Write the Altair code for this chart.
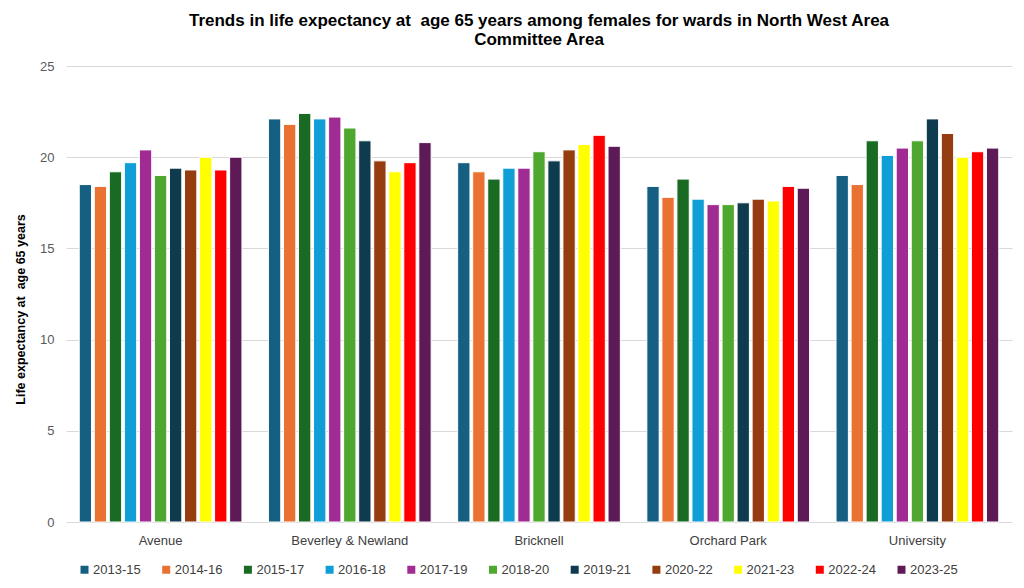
import altair as alt
import pandas as pd

wards = ["Avenue", "Beverley & Newland", "Bricknell", "Orchard Park", "University"]
periods = ["2013-15", "2014-16", "2015-17", "2016-18", "2017-19", "2018-20",
           "2019-21", "2020-22", "2021-23", "2022-24", "2023-25"]
colors = ["#156082", "#E97132", "#196B24", "#0F9ED5", "#A02B93", "#4EA72E",
          "#0F3B4F", "#953D10", "#FFFF00", "#FF0000", "#5E1A57"]

avenue = [18.5, 18.4, 19.2, 19.7, 20.4, 19.0, 19.4, 19.3, 20.0, 19.3, 20.0]
beverley = [22.1, 21.8, 22.4, 22.1, 22.2, 21.6, 20.9, 19.8, 19.2, 19.7, 20.8]
bricknell = [19.7, 19.2, 18.8, 19.4, 19.4, 20.3, 19.8, 20.4, 20.7, 21.2, 20.6]
orchard = [18.4, 17.8, 18.8, 17.7, 17.4, 17.4, 17.5, 17.7, 17.6, 18.4, 18.3]
university = [19.0, 18.5, 20.9, 20.1, 20.5, 20.9, 22.1, 21.3, 20.0, 20.3, 20.5]

series = [avenue, beverley, bricknell, orchard, university]
rows = []
for w, vals in zip(wards, series):
    for p, v in zip(periods, vals):
        rows.append({"ward": w, "period": p, "value": v})
df = pd.DataFrame(rows)

font = "Liberation Sans"

chart = alt.Chart(df).mark_bar(stroke="white", strokeWidth=1).encode(
    x=alt.X("ward:N", sort=wards, title=None,
            scale=alt.Scale(paddingInner=0.14, paddingOuter=0.07),
            axis=alt.Axis(labelAngle=0, labelFontSize=13, labelColor="#404040",
                          labelFont=font, domain=False, ticks=False, labelPadding=12)),
    xOffset=alt.XOffset("period:N", sort=periods, scale=alt.Scale(paddingInner=0.18)),
    y=alt.Y("value:Q", title="Life expectancy at\u00a0 age 65 years",
            scale=alt.Scale(domain=[0, 25]),
            axis=alt.Axis(values=[0, 5, 10, 15, 20, 25], labelFontSize=13,
                          labelColor="#595959", labelFont=font, domain=False, ticks=False,
                          labelPadding=12, gridColor="#D9D9D9", titleFont=font,
                          titleFontSize=12.5, titleFontWeight="bold", titleColor="#000000",
                          titlePadding=12, titleY=243)),
    color=alt.Color("period:N", sort=periods,
                    scale=alt.Scale(domain=periods, range=colors),
                    legend=alt.Legend(title=None, orient="none", legendX=12, legendY=497,
                                      direction="horizontal", columns=11,
                                      symbolType="square", symbolSize=64,
                                      symbolStrokeWidth=0, labelFont=font,
                                      labelFontSize=13, labelColor="#404040",
                                      labelOffset=2, columnPadding=18.7)),
).properties(
    width=946,
    height=456,
    title=alt.Title(["Trends in life expectancy at\u00a0 age 65 years among females for wards in North West Area",
                     "Committee Area"],
                    font=font, fontSize=17, fontWeight="bold", color="#000000",
                    anchor="middle", offset=11, lineHeight=19),
    autosize=alt.AutoSizeParams(type="none"),
    padding={"left": 58, "top": 58, "right": 4, "bottom": 58},
).configure_view(stroke=None)

chart.save("out.html", embed_options={"renderer": "svg", "actions": False})
